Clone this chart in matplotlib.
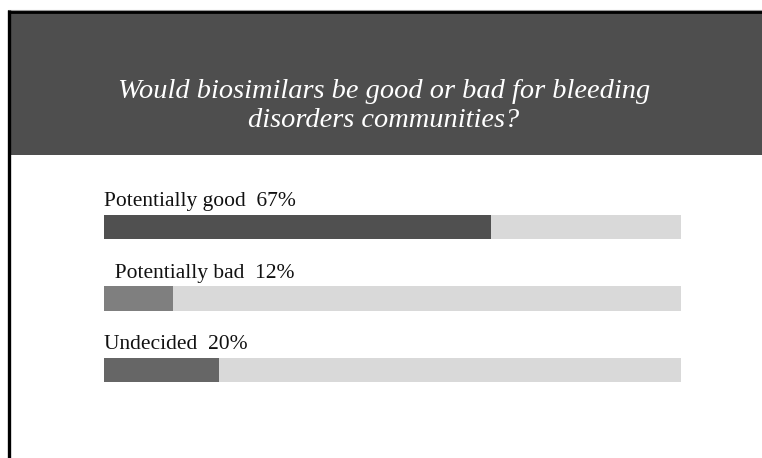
import matplotlib
matplotlib.use("Agg")
import matplotlib.pyplot as plt
from matplotlib.patches import Rectangle

# Survey results
categories = ["Potentially good", "  Potentially bad", "Undecided"]
values = [67, 12, 20]
bar_colors = ["#505050", "#7f7f7f", "#666666"]
track_color = "#d9d9d9"
header_color = "#4e4e4e"
title = "Would biosimilars be good or bad for bleeding\ndisorders communities?"

W, H = 762, 458
fig = plt.figure(figsize=(W / 100, H / 100), dpi=100)
fig.patch.set_facecolor("white")

# Slide frame and header band, drawn in pixel units (origin top-left)
bg = fig.add_axes([0, 0, 1, 1])
bg.set_xlim(0, W)
bg.set_ylim(H, 0)
bg.axis("off")
bg.add_patch(Rectangle((8, 10), W - 8, 145, facecolor=header_color, edgecolor="none"))
bg.plot([8, W], [10, 10], color="#9a9a9a", lw=0.8, solid_capstyle="butt")
bg.plot([8, W], [11.8, 11.8], color="black", lw=2.0, solid_capstyle="butt")
bg.plot([8.8, 8.8], [10, H], color="black", lw=2.4, solid_capstyle="butt")
bg.text(384, 106, title, color="white", ha="center", va="center",
        fontsize=20.4, style="italic", family="Liberation Serif", linespacing=1.25)

# Progress-style bars
left_px, right_px = 104, 681
ax = fig.add_axes([left_px / W, 0, (right_px - left_px) / W, (H - 155) / H])
ax.set_xlim(0, 100)
ax.set_ylim(3.231, -1.007)
ax.axis("off")
ypos = list(range(len(values)))
ax.barh(ypos, [100] * len(values), height=0.336, color=track_color, align="center")
ax.barh(ypos, values, height=0.336, color=bar_colors, align="center")
for y, cat, v in zip(ypos, categories, values):
    ax.text(0, y - 0.29, f"{cat}  {v}%", ha="left", va="baseline",
            fontsize=15.5, family="Liberation Serif", color="#111111")

fig.savefig("out.png", dpi=100, facecolor="white")
